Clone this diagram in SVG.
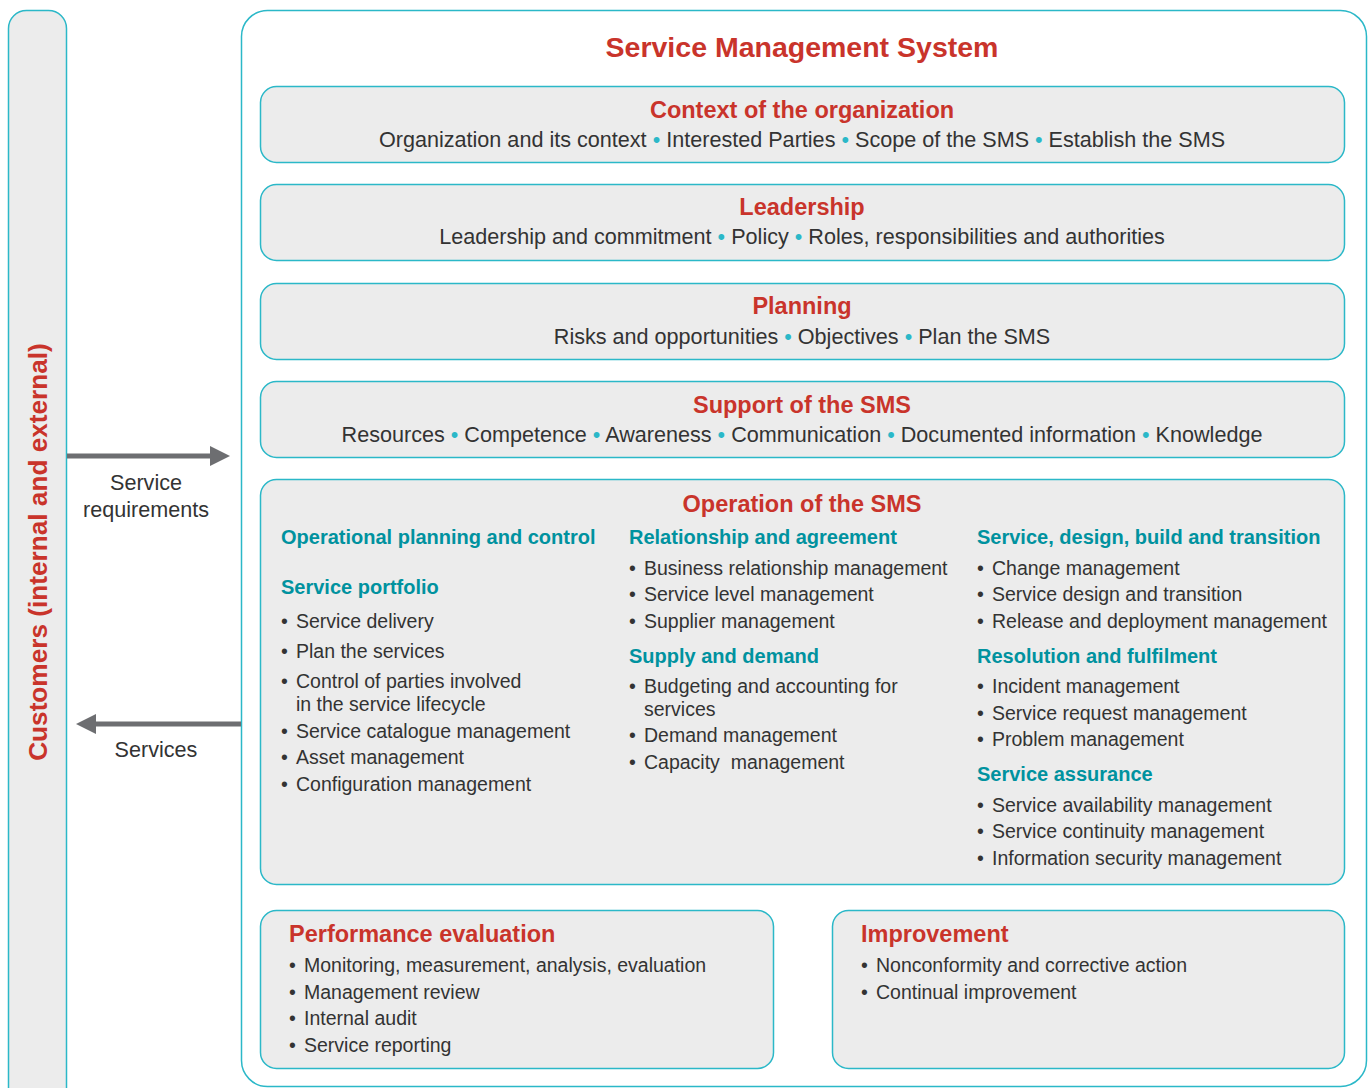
<svg xmlns="http://www.w3.org/2000/svg" width="1370" height="1088" viewBox="0 0 1370 1088">
<defs>
<style>
.box{fill:#ececec;stroke:#2bb8c8;stroke-width:1.5}
.frame{fill:#ffffff;stroke:#2bb8c8;stroke-width:1.5}
.t{font-family:"Liberation Sans",Arial,sans-serif;font-size:19.5px;fill:#333333}
.tc{font-family:"Liberation Sans",Arial,sans-serif;font-size:21.6px;fill:#333333;text-anchor:middle}
.h{font-family:"Liberation Sans",Arial,sans-serif;font-size:23.5px;font-weight:bold;fill:#c9342b}
.sh{font-family:"Liberation Sans",Arial,sans-serif;font-size:20px;font-weight:bold;fill:#00929f}
.c{text-anchor:middle}
.d{fill:#2bb8c8}
.arrow{stroke:#6d6e71;stroke-width:5;fill:none}
</style>
<marker id="ah" viewBox="0 0 10 10" refX="0" refY="5" markerWidth="4" markerHeight="6" markerUnits="strokeWidth" orient="auto">
<path d="M0,0 L10,5 L0,10 z" fill="#6d6e71"/>
</marker>
</defs>

<g id="customers">
<rect class="box" x="8.5" y="10.5" width="58" height="1100" rx="18"/>
<text class="h" transform="translate(47,552) rotate(-90)" text-anchor="middle" style="font-size:26.2px">Customers (internal and external)</text>
</g>

<g id="sms">
<rect class="frame" x="241.5" y="10.5" width="1125" height="1076" rx="26"/>
<text class="h c" x="802" y="57" style="font-size:28.5px">Service Management System</text>
</g>

<g id="context">
<rect class="box" x="260.5" y="86.5" width="1084" height="76" rx="16"/>
<text class="h c" x="802" y="118">Context of the organization</text>
<text class="tc" x="802" y="147">Organization and its context <tspan class="d">•</tspan> Interested Parties <tspan class="d">•</tspan> Scope of the SMS <tspan class="d">•</tspan> Establish the SMS</text>
</g>

<g id="leadership">
<rect class="box" x="260.5" y="184.5" width="1084" height="76" rx="16"/>
<text class="h c" x="802" y="215">Leadership</text>
<text class="tc" x="802" y="244">Leadership and commitment <tspan class="d">•</tspan> Policy <tspan class="d">•</tspan> Roles, responsibilities and authorities</text>
</g>

<g id="planning">
<rect class="box" x="260.5" y="283.5" width="1084" height="76" rx="16"/>
<text class="h c" x="802" y="314">Planning</text>
<text class="tc" x="802" y="344">Risks and opportunities <tspan class="d">•</tspan> Objectives <tspan class="d">•</tspan> Plan the SMS</text>
</g>

<g id="support">
<rect class="box" x="260.5" y="381.5" width="1084" height="76" rx="16"/>
<text class="h c" x="802" y="413">Support of the SMS</text>
<text class="tc" x="802" y="442">Resources <tspan class="d">•</tspan> Competence <tspan class="d">•</tspan> Awareness <tspan class="d">•</tspan> Communication <tspan class="d">•</tspan> Documented information <tspan class="d">•</tspan> Knowledge</text>
</g>

<g id="operation">
<rect class="box" x="260.5" y="479.5" width="1084" height="405" rx="16"/>
<text class="h c" x="802" y="512">Operation of the SMS</text>

<text class="sh" x="281" y="544">Operational planning and control</text>
<text class="sh" x="281" y="594">Service portfolio</text>
<text class="t" x="281" y="628">• <tspan x="296">Service delivery</tspan></text>
<text class="t" x="281" y="658">• <tspan x="296">Plan the services</tspan></text>
<text class="t" x="281" y="688">• <tspan x="296">Control of parties involved</tspan></text>
<text class="t" x="296" y="711">in the service lifecycle</text>
<text class="t" x="281" y="738">• <tspan x="296">Service catalogue management</tspan></text>
<text class="t" x="281" y="764">• <tspan x="296">Asset management</tspan></text>
<text class="t" x="281" y="791">• <tspan x="296">Configuration management</tspan></text>

<text class="sh" x="629" y="544">Relationship and agreement</text>
<text class="t" x="629" y="575">• <tspan x="644">Business relationship management</tspan></text>
<text class="t" x="629" y="601">• <tspan x="644">Service level management</tspan></text>
<text class="t" x="629" y="628">• <tspan x="644">Supplier management</tspan></text>
<text class="sh" x="629" y="663">Supply and demand</text>
<text class="t" x="629" y="693">• <tspan x="644">Budgeting and accounting for</tspan></text>
<text class="t" x="644" y="716">services</text>
<text class="t" x="629" y="742">• <tspan x="644">Demand management</tspan></text>
<text class="t" x="629" y="769" xml:space="preserve">• <tspan x="644">Capacity  management</tspan></text>

<text class="sh" x="977" y="544">Service, design, build and transition</text>
<text class="t" x="977" y="575">• <tspan x="992">Change management</tspan></text>
<text class="t" x="977" y="601">• <tspan x="992">Service design and transition</tspan></text>
<text class="t" x="977" y="628">• <tspan x="992">Release and deployment management</tspan></text>
<text class="sh" x="977" y="663">Resolution and fulfilment</text>
<text class="t" x="977" y="693">• <tspan x="992">Incident management</tspan></text>
<text class="t" x="977" y="720">• <tspan x="992">Service request management</tspan></text>
<text class="t" x="977" y="746">• <tspan x="992">Problem management</tspan></text>
<text class="sh" x="977" y="781">Service assurance</text>
<text class="t" x="977" y="812">• <tspan x="992">Service availability management</tspan></text>
<text class="t" x="977" y="838">• <tspan x="992">Service continuity management</tspan></text>
<text class="t" x="977" y="865">• <tspan x="992">Information security management</tspan></text>
</g>

<g id="performance">
<rect class="box" x="260.5" y="910.5" width="513" height="158" rx="16"/>
<text class="h" x="289" y="942">Performance evaluation</text>
<text class="t" x="289" y="972">• <tspan x="304">Monitoring, measurement, analysis, evaluation</tspan></text>
<text class="t" x="289" y="999">• <tspan x="304">Management review</tspan></text>
<text class="t" x="289" y="1025">• <tspan x="304">Internal audit</tspan></text>
<text class="t" x="289" y="1052">• <tspan x="304">Service reporting</tspan></text>
</g>

<g id="improvement">
<rect class="box" x="832.5" y="910.5" width="512" height="158" rx="16"/>
<text class="h" x="861" y="942">Improvement</text>
<text class="t" x="861" y="972">• <tspan x="876">Nonconformity and corrective action</tspan></text>
<text class="t" x="861" y="999">• <tspan x="876">Continual improvement</tspan></text>
</g>

<g id="connectors">
<line class="arrow" x1="67" y1="456" x2="210" y2="456" marker-end="url(#ah)"/>
<text class="tc" x="146" y="490">Service</text>
<text class="tc" x="146" y="517">requirements</text>
<line class="arrow" x1="241" y1="724" x2="96" y2="724" marker-end="url(#ah)"/>
<text class="tc" x="156" y="757">Services</text>
</g>
</svg>
